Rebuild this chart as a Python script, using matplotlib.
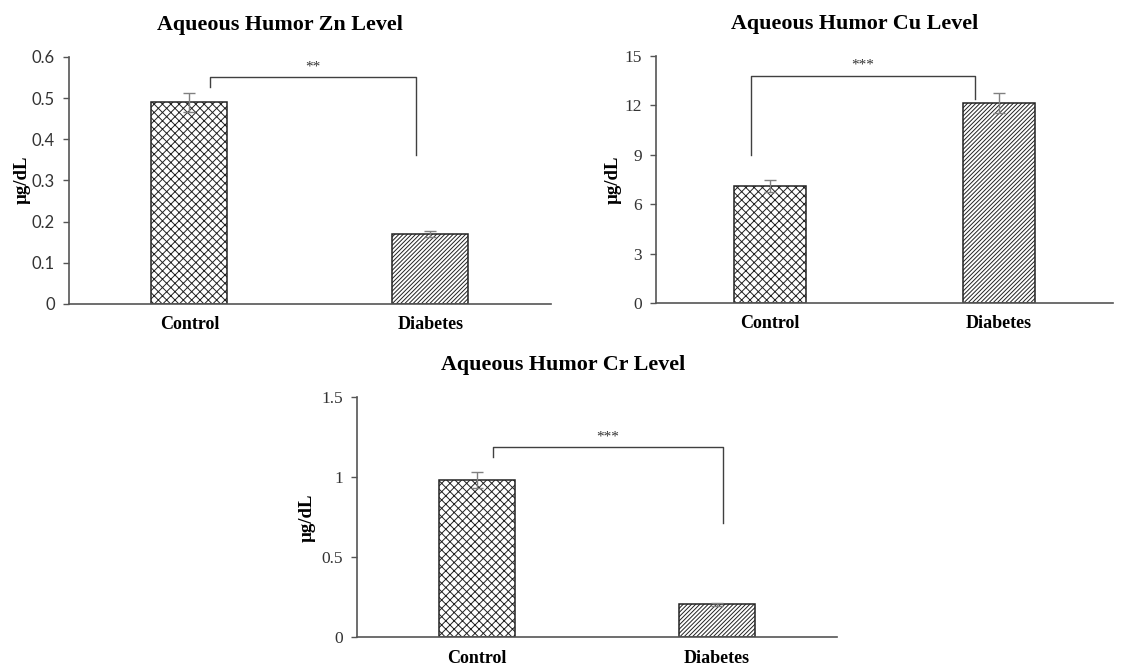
import matplotlib.pyplot as plt
import numpy as np

# ─── Veriler ──────────────────────────────────────────────────────────────────
GROUPS = ["Control", "Diabetes"]

ZN_MEAN = [0.49, 0.17]
ZN_ERR = [0.023, 0.008]
CU_MEAN = [7.1, 12.15]
CU_ERR = [0.35, 0.6]
CR_MEAN = [0.98, 0.205]
CR_ERR = [0.05, 0.01]

# anlamlılık çizgileri: (sol x, sağ x, sol alt y, sağ alt y, üst y)
ZN_BRACKET = [0.085, 0.94, 0.527, 0.362, 0.551]
CU_BRACKET = [-0.084, 0.896, 9.0, 12.4, 13.8]
CR_BRACKET = [0.067, 1.025, 1.125, 0.7125, 1.1875]

ZN_TICKS = [0, 0.1, 0.2, 0.3, 0.4, 0.5, 0.6]
CU_TICKS = [0, 3, 6, 9, 12, 15]
CR_TICKS = [0, 0.5, 1, 1.5]
CR_TICK_LABELS = ["0", "0.5", "1", "1.5"]

SERIF = "Liberation Serif"
AXIS_GRAY = "#555555"
plt.rcParams["hatch.linewidth"] = 0.7


def draw_panel(ax, means, errs, bracket, stars, ticks, tick_labels, tick_font,
               tick_size, label_pad):
    x = np.arange(len(GROUPS))
    hatches = ["xxxx", "/" * 8]
    for xi, m, h in zip(x, means, hatches):
        ax.bar(xi, m, width=0.315, color="white", edgecolor="#222222",
               hatch=h, linewidth=1.1, zorder=2)
    ax.errorbar(x, means, yerr=errs, fmt="none", ecolor="#808080",
                elinewidth=1, capsize=4, capthick=1, zorder=3)

    xl, xr, yl, yr, top = bracket
    ax.plot([xl, xl, xr, xr], [yl, top, top, yr], color="#404040",
            linewidth=1, clip_on=False, zorder=4)
    span = ticks[-1] - ticks[0]
    ax.text((xl + xr) / 2, top + span * 0.015, stars, ha="center", va="bottom",
            fontsize=11, family=SERIF, color="#333333")

    ax.set_xlim(-0.5, 1.5)
    ax.set_ylim(ticks[0], ticks[-1])
    ax.set_xticks(x)
    ax.set_xticklabels(GROUPS, family=SERIF, fontweight="bold", fontsize=13)
    ax.tick_params(axis="x", length=0, pad=label_pad)
    ax.set_yticks(ticks)
    ax.set_yticklabels(tick_labels, family=tick_font, fontsize=tick_size, color="#333333")
    ax.tick_params(axis="y", length=4, width=1, color=AXIS_GRAY, pad=6)
    for side in ["top", "right"]:
        ax.spines[side].set_visible(False)
    for side in ["left", "bottom"]:
        ax.spines[side].set_color(AXIS_GRAY)
        ax.spines[side].set_linewidth(1.2)


fig = plt.figure(figsize=(11.34, 6.65), dpi=100)

ax_zn = fig.add_axes([0.0608, 0.543, 0.425, 0.3714])
ax_cu = fig.add_axes([0.5785, 0.5444, 0.403, 0.3714])
ax_cr = fig.add_axes([0.3148, 0.0421, 0.4233, 0.361])

draw_panel(ax_zn, ZN_MEAN, ZN_ERR, ZN_BRACKET, "**", ZN_TICKS,
           [f"{t:g}" for t in ZN_TICKS], "Lato", 12, 8.5)
draw_panel(ax_cu, CU_MEAN, CU_ERR, CU_BRACKET, "***", CU_TICKS,
           [str(t) for t in CU_TICKS], SERIF, 12.5, 8.5)
draw_panel(ax_cr, CR_MEAN, CR_ERR, CR_BRACKET, "***", CR_TICKS,
           CR_TICK_LABELS, SERIF, 12.5, 9)

# Başlıklar ve eksen etiketleri
title_kw = dict(ha="center", va="center", family=SERIF, fontweight="bold", fontsize=15.8)
fig.text(280 / 1134, 1 - 25 / 665, "Aqueous Humor Zn Level", **title_kw)
fig.text(855 / 1134, 1 - 24 / 665, "Aqueous Humor Cu Level", **title_kw)
fig.text(563 / 1134, 1 - 365 / 665, "Aqueous Humor Cr Level", **title_kw)

ylab_kw = dict(ha="center", va="center", rotation=90, family=SERIF,
               fontweight="bold", fontsize=13.5)
fig.text(22 / 1134, 1 - 180 / 665, "µg/dL", **ylab_kw)
fig.text(613 / 1134, 1 - 180 / 665, "µg/dL", **ylab_kw)
fig.text(307 / 1134, 1 - 518 / 665, "µg/dL", **ylab_kw)

plt.savefig("out.png", dpi=100)
plt.close()
